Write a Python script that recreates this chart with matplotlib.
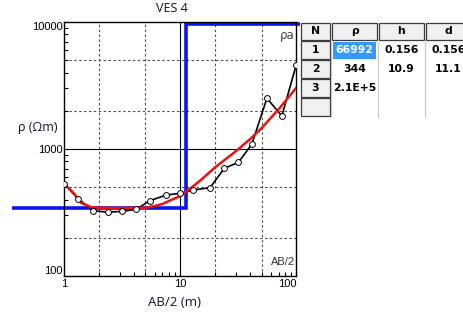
"""Recreate the VES 4 sounding curve together with its layer table."""

import numpy as np
import matplotlib
matplotlib.use("Agg")
from matplotlib import pyplot as plt
from matplotlib.patches import Rectangle
from matplotlib.ticker import LogLocator, NullFormatter

# field sounding: AB/2 (m) and apparent resistivity (Ohm m)
AB2_M = [1.0, 1.32, 1.78, 2.37, 3.16, 4.15, 5.48, 7.53, 10.0, 12.9,
         18.0, 23.9, 31.6, 41.2, 55.6, 74.8, 99.4]
RHO_A = [530, 404, 327, 318, 323, 335, 392, 434, 448, 475,
         496, 705, 785, 1089, 2507, 1820, 4585]

# fitted model response
MODEL_AB2_M = [1.0, 1.2, 1.4, 1.7, 2.0, 3.0, 5.0, 6.0, 7.0, 8.0,
               10.0, 12.0, 15.0, 20.0, 30.0, 40.0, 50.0, 70.0, 100.0]
MODEL_RHO_A = [530, 451, 376, 349, 345, 343, 345, 356, 369, 390,
               427, 484, 570, 720, 960, 1200, 1460, 2050, 3050]

# layer model (table)
LAYER_N = ["1", "2", "3"]
LAYER_RHO = [66992, 344, 2.1e5]
LAYER_RHO_TEXT = ["66992", "344", "2.1E+5"]
LAYER_H_TEXT = ["0.156", "10.9", ""]
LAYER_D = [0.156, 11.1]
LAYER_D_TEXT = ["0.156", "11.1", ""]
TABLE_HEADER = ["N", "ρ", "h", "d"]

GRID_X = [2, 5, 20, 50]
GRID_Y = [200, 500, 2000, 5000]

X_LIM = (1, 100)
Y_LIM = (100, 10000)

W, H = 463, 316
fig = plt.figure(figsize=(W / 100, H / 100), dpi=100)
fig.patch.set_facecolor("white")

ax = fig.add_axes([64.3 / W, 1 - 276 / H, 232.2 / W, 254 / H])
ax.set_xscale("log")
ax.set_yscale("log")
ax.set_xlim(*X_LIM)
ax.set_ylim(*Y_LIM)

for gx in GRID_X:
    ax.axvline(gx, color="#505050", lw=0.8, ls=(0, (2.2, 2.2)), zorder=1)
for gy in GRID_Y:
    ax.axhline(gy, color="#505050", lw=0.8, ls=(0, (2.2, 2.2)), zorder=1)
ax.axvline(10, color="black", lw=0.8, zorder=1)
ax.axhline(1000, color="black", lw=0.8, zorder=1)

# layer model as a step line, kept just inside the top frame
step_x = [0.01]
step_y = [LAYER_RHO[0]]
for d, rho_above, rho_below in zip(LAYER_D, LAYER_RHO[:-1], LAYER_RHO[1:]):
    step_x += [d, d]
    step_y += [rho_above, rho_below]
step_x.append(1000)
step_y.append(LAYER_RHO[-1])
step_y = np.minimum(step_y, Y_LIM[1] * 0.965)
(model_line,) = ax.plot(step_x, step_y, color="#0a14f0", lw=2.6, zorder=2,
                        solid_joinstyle="miter")
model_line.set_clip_path(Rectangle((-0.225, -0.01), 1.239, 1.03,
                                   transform=ax.transAxes))

ax.plot(AB2_M, RHO_A, color="black", lw=1.2, zorder=3)
ax.plot(MODEL_AB2_M, MODEL_RHO_A, color="#f01010", lw=1.8, zorder=4)
ax.plot(AB2_M, RHO_A, ls="none", marker="o", ms=4.2, mfc="white",
        mec="black", mew=0.7, zorder=5)

ax.set_xticks([1, 10, 100])
ax.set_xticklabels(["1", "10", "100"])
ax.set_yticks([100, 1000, 10000])
ax.set_yticklabels(["100", "1000", "10000"])
for axis in (ax.xaxis, ax.yaxis):
    axis.set_minor_locator(LogLocator(base=10, subs=np.arange(2, 10)))
    axis.set_minor_formatter(NullFormatter())
ax.tick_params(which="both", direction="in", length=3, width=0.8,
               labelsize=8, colors="black")
ax.tick_params(axis="x", pad=2)
ax.tick_params(axis="y", pad=1)
for lab in ax.get_xticklabels() + ax.get_yticklabels():
    lab.set_family("Liberation Sans")
ax.get_xticklabels()[2].set_ha("right")
ax.get_yticklabels()[0].set_va("bottom")
ax.get_yticklabels()[2].set_va("top")
for spine in ax.spines.values():
    spine.set_linewidth(1.0)
    spine.set_color("black")

# overlay in pixel coordinates for labels and the table
ov = fig.add_axes([0, 0, 1, 1])
ov.set_xlim(0, W)
ov.set_ylim(H, 0)
ov.axis("off")
ov.patch.set_visible(False)

label_font = ["Open Sans", "DejaVu Sans"]
ov.text(172, 9, "VES 4", ha="center", va="center", fontsize=9,
        family=label_font, color="#111111")
ov.text(38, 128, "ρ (Ωm)", ha="center", va="center", fontsize=9,
        family=label_font, color="#111133")
ov.text(175, 302, "AB/2 (m)", ha="center", va="center", fontsize=9.5,
        family=label_font, color="#111133")
ov.text(295, 36, "ρa", ha="right", va="center", fontsize=8.5,
        family="DejaVu Sans", color="#444444")
ov.text(295, 262, "AB/2", ha="right", va="center", fontsize=8,
        family="Liberation Sans", color="#333333")

col_edges = [300, 331, 378, 425, 472]
row_edges = [22, 40.5, 59.5, 78.5, 97.5, 116.5]
cell_font = dict(family="DejaVu Sans", fontweight="bold", fontsize=7.8,
                 color="black", va="center", ha="center")


def button(x0, y0, x1, y1):
    ov.add_patch(Rectangle((x0 + 0.5, y0 + 0.5), x1 - x0 - 1.5, y1 - y0 - 1.5,
                           facecolor="#f0f0f0", edgecolor="#3c3c3c", lw=0.9))


for i in range(4):
    button(col_edges[i], row_edges[0], col_edges[i + 1], row_edges[1])
    ov.text((col_edges[i] + col_edges[i + 1]) / 2,
            (row_edges[0] + row_edges[1]) / 2, TABLE_HEADER[i], **cell_font)

for r in range(4):
    button(col_edges[0], row_edges[r + 1], col_edges[1], row_edges[r + 2])
for cx in col_edges[1:4]:
    ov.plot([cx, cx], [row_edges[1], row_edges[-1]], color="#c8c8c8",
            lw=0.8)

ov.add_patch(Rectangle((333, row_edges[1] + 1.5), 43, 17,
                       facecolor="#3399ff", edgecolor="none"))

rows = zip(LAYER_N, LAYER_RHO_TEXT, LAYER_H_TEXT, LAYER_D_TEXT)
for r, (n, rho, h, d) in enumerate(rows):
    yc = (row_edges[r + 1] + row_edges[r + 2]) / 2
    for c, val in enumerate([n, rho, h, d]):
        xc = (col_edges[c] + col_edges[c + 1]) / 2
        color = "white" if (r == 0 and c == 1) else "black"
        ov.text(xc, yc, val, **{**cell_font, "color": color})

fig.savefig("out.png", dpi=100, facecolor="white")
